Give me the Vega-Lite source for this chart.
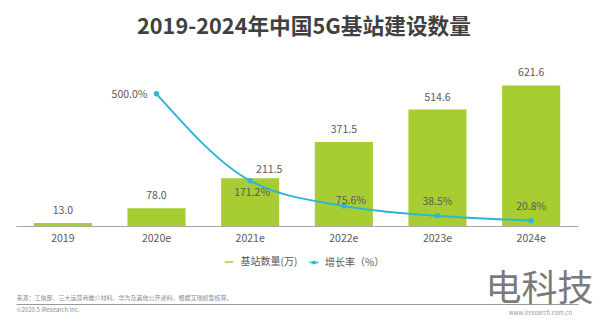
{
  "$schema": "https://vega.github.io/schema/vega-lite/v6.json",
  "width": 562,
  "height": 166,
  "autosize": {"type": "none"},
  "padding": {"left": 16, "right": 22, "top": 60, "bottom": 104},
  "background": "white",
  "config": {"font": "Noto Sans CJK SC", "view": {"stroke": null}},
  "title": {"text": "2019-2024年中国5G基站建设数量", "fontSize": 21.7, "fontWeight": "bold", "color": "#404040", "anchor": "middle", "frame": "group", "offset": 4, "baseline": "alphabetic", "dx": 7},
  "data": {"values": [
    {"year": "2019", "stations": 13.0, "growth": null},
    {"year": "2020e", "stations": 78.0, "growth": 5.0},
    {"year": "2021e", "stations": 211.5, "growth": 1.712},
    {"year": "2022e", "stations": 371.5, "growth": 0.756},
    {"year": "2023e", "stations": 514.6, "growth": 0.385},
    {"year": "2024e", "stations": 621.6, "growth": 0.208}
  ]},
  "layer": [
    {
      "encoding": {
        "x": {"field": "year", "type": "ordinal", "sort": null, "scale": {"paddingInner": 0.38, "paddingOuter": 0.19},
          "axis": {"orient": "bottom", "title": ["来源：工信部、三大运营商推介材料、华为及其他公开资料，根据艾瑞模型核算。", "©2020.5 iResearch Inc."],
            "labelFontSize": 10.5, "labelColor": "#595959", "labelPadding": 7, "labelAngle": 0, "ticks": false,
            "domainColor": "#a6a6a6", "titleFontSize": 6, "titleColor": "#8c8c8c", "titleFontWeight": "normal",
            "titleAnchor": "start", "titleAlign": "left", "titleX": 0, "titleY": 68, "titleBaseline": "top", "titleLineHeight": 12.5}},
        "y": {"field": "stations", "type": "quantitative", "scale": {"domain": [0, 734], "nice": false},
          "axis": {"orient": "left", "title": "电科技", "labels": false, "ticks": false, "domain": false, "grid": false, "titleAngle": 0,
            "titleFontSize": 36, "titleFontWeight": "normal", "titleColor": "#7a7a7a", "titleX": 469, "titleY": 240,
            "titleAlign": "left", "titleBaseline": "alphabetic"}}
      },
      "layer": [
        {"mark": {"type": "bar"},
         "encoding": {"color": {"datum": "基站数量(万)", "scale": {"range": ["#a8cd32"]},
           "legend": {"title": null, "orient": "none", "legendX": 208, "legendY": 197, "padding": 0,
             "symbolType": "M-1,-0.18H1V0.18H-1Z", "symbolSize": 72, "symbolStrokeWidth": 0, "labelOffset": 6.5,
             "labelFontSize": 10, "labelColor": "#595959"}}}},
        {"transform": [{"filter": "datum.year != '2021e'"}],
         "mark": {"type": "text", "baseline": "middle", "dy": -12, "fontSize": 10.5, "color": "#595959"},
         "encoding": {"text": {"field": "stations", "type": "quantitative", "format": ".1f"}}},
        {"transform": [{"filter": "datum.year == '2021e'"}],
         "mark": {"type": "text", "baseline": "middle", "dy": -8, "dx": 19, "fontSize": 10.5, "color": "#595959"},
         "encoding": {"text": {"field": "stations", "type": "quantitative", "format": ".1f"}}}
      ]
    },
    {
      "transform": [{"filter": "datum.growth != null"}],
      "encoding": {
        "x": {"field": "year", "type": "ordinal", "sort": null, "scale": {"paddingInner": 0.38, "paddingOuter": 0.19},
          "axis": {"orient": "bottom", "title": null, "labels": false, "ticks": false, "offset": 78, "domain": true, "domainColor": "#999999", "domainWidth": 1}},
        "y": {"field": "growth", "type": "quantitative", "scale": {"domain": [0, 6.28], "nice": false},
          "axis": {"orient": "right", "title": "www.iresearch.com.cn", "labels": false, "ticks": false, "domain": false, "grid": false,
            "titleAngle": 0, "titleFontSize": 6, "titleFontWeight": "normal", "titleColor": "#999999", "titleX": -38, "titleY": 252,
            "titleAlign": "center", "titleBaseline": "middle"}}
      },
      "layer": [
        {"mark": {"type": "line", "strokeWidth": 2, "interpolate": "monotone"},
         "encoding": {"stroke": {"datum": "增长率（%）", "scale": {"range": ["#2fb5d5"]},
           "legend": {"title": null, "orient": "none", "legendX": 292.5, "legendY": 197, "padding": 0,
             "symbolType": "M-1,0H1M-0.28,0A0.28,0.28,0,1,1,0.28,0A0.28,0.28,0,1,1,-0.28,0Z", "symbolSize": 81,
             "symbolStrokeWidth": 1.5, "symbolFillColor": "#2fb5d5", "labelOffset": 5.5,
             "labelFontSize": 10, "labelColor": "#595959"}}}},
        {"mark": {"type": "point", "filled": true, "size": 30, "color": "#2fb5d5", "opacity": 1}},
        {"transform": [{"filter": "datum.year == '2020e'"}],
         "mark": {"type": "text", "align": "right", "baseline": "middle", "dx": -9, "dy": 1, "fontSize": 10.5, "color": "#595959"},
         "encoding": {"text": {"field": "growth", "type": "quantitative", "format": ".1%"}}},
        {"transform": [{"filter": "datum.year == '2021e'"}],
         "mark": {"type": "text", "baseline": "middle", "dx": 2, "dy": 12, "fontSize": 10.5, "color": "#595959"},
         "encoding": {"text": {"field": "growth", "type": "quantitative", "format": ".1%"}}},
        {"transform": [{"filter": "datum.year == '2022e'"}],
         "mark": {"type": "text", "baseline": "middle", "dx": 7, "dy": -5, "fontSize": 10.5, "color": "#595959"},
         "encoding": {"text": {"field": "growth", "type": "quantitative", "format": ".1%"}}},
        {"transform": [{"filter": "datum.year == '2023e' || datum.year == '2024e'"}],
         "mark": {"type": "text", "baseline": "middle", "dy": -14, "fontSize": 10.5, "color": "#595959"},
         "encoding": {"text": {"field": "growth", "type": "quantitative", "format": ".1%"}}}
      ]
    }
  ],
  "resolve": {"scale": {"y": "independent"}, "axis": {"x": "independent"}}
}
